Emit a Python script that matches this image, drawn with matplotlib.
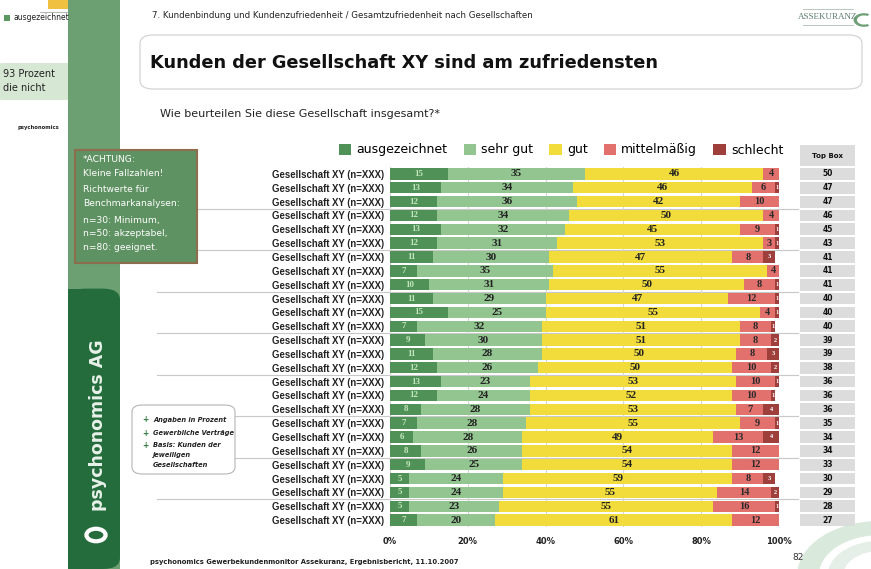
import numpy as np
import matplotlib.pyplot as plt
from matplotlib.patches import Rectangle, FancyBboxPatch, Wedge, Circle
from matplotlib.lines import Line2D
import matplotlib.transforms as mtransforms


# Chart data (percent per company)
categories = ['ausgezeichnet', 'sehr gut', 'gut', 'mittelmäßig', 'schlecht']
row_labels = ['Gesellschaft XY (n=XXX)'] * 26
ausgezeichnet = [15, 13, 12, 12, 13, 12, 11, 7, 10, 11, 15, 7, 9,
                 11, 12, 13, 12, 8, 7, 6, 8, 9, 5, 5, 5, 7]
sehr_gut = [35, 34, 36, 34, 32, 31, 30, 35, 31, 29, 25, 32, 30,
            28, 26, 23, 24, 28, 28, 28, 26, 25, 24, 24, 23, 20]
gut = [46, 46, 42, 50, 45, 53, 47, 55, 50, 47, 55, 51, 51,
       50, 50, 53, 52, 53, 55, 49, 54, 54, 59, 55, 55, 61]
mittelmaessig = [4, 6, 10, 4, 9, 3, 8, 4, 8, 12, 4, 8, 8,
                 8, 10, 10, 10, 7, 9, 13, 12, 12, 8, 14, 16, 12]
schlecht = [0, 1, 1, 0, 1, 1, 3, 0, 1, 1, 1, 1, 2,
            3, 2, 1, 1, 4, 1, 4, 0, 0, 3, 2, 1, 0]
top_box = [50, 47, 47, 46, 45, 43, 41, 41, 41, 40, 40, 40, 39,
           39, 38, 36, 36, 36, 35, 34, 34, 33, 30, 29, 28, 27]
x_ticks = [0, 20, 40, 60, 80, 100]
x_ticklabels = ['0%', '20%', '40%', '60%', '80%', '100%']

colors = ['#4f9157', '#93c590', '#f1dc3c', '#e2716d', '#9e3f3c']
label_colors = ['#c4e6bd', '#222222', '#222222', '#2a2a2a', '#ffffff']

W, H = 871, 569


def fx(x):
    return x / W


def fy(y):
    return 1 - y / H


fig = plt.figure(figsize=(8.71, 5.69), dpi=100)
fig.patch.set_facecolor('white')

# --- main stacked bar chart ---
ax = fig.add_axes([fx(390), fy(527), (779 - 390) / W, (527 - 167) / H])
ax.patch.set_visible(False)
rows = np.arange(len(row_labels))
series = [ausgezeichnet, sehr_gut, gut, mittelmaessig, schlecht]
left = np.zeros(len(rows))
conts = []
for name, vals, col in zip(categories, series, colors):
    vals = np.array(vals, dtype=float)
    c = ax.barh(rows, vals, left=left, height=0.82, color=col, label=name, zorder=2)
    conts.append(c)
    left += vals

sizes = [6.5, 8, 8, 7.5, 4.5]
for c, vals, lc, fs in zip(conts, series, label_colors, sizes):
    labs = [str(v) if v > 0 else '' for v in vals]
    ax.bar_label(c, labels=labs, label_type='center', color=lc, fontsize=fs,
                 family='Liberation Serif', fontweight='bold')

ax.set_xlim(0, 100)
ax.set_ylim(len(rows) - 0.5, -0.5)
ax.set_xticks(x_ticks)
ax.set_xticklabels(x_ticklabels, fontsize=6, fontweight='bold', color='#222')
ax.set_yticks(rows)
ax.set_yticklabels(row_labels, fontsize=6.9, fontweight='bold',
                   family='Liberation Sans', color='#222')
ax.tick_params(axis='both', length=0)
ax.tick_params(axis='x', pad=7)
ax.tick_params(axis='y', pad=4)
for s in ax.spines.values():
    s.set_visible(False)
ax.grid(axis='x', color='#d6d6d6', lw=0.8, zorder=0)

ax.legend(loc='center', bbox_to_anchor=(fx(561), fy(150)),
          bbox_transform=fig.transFigure, ncol=5, frameon=False,
          fontsize=9, handlelength=1.0, handleheight=1.0,
          handletextpad=0.4, columnspacing=1.3)

# group separator lines every 3 rows
blend = mtransforms.blended_transform_factory(fig.transFigure, ax.transData)
for yy in np.arange(2.5, len(rows) - 1, 3):
    fig.add_artist(Line2D([fx(157), fx(798)], [yy, yy], transform=blend,
                          color='#c8c8c8', lw=0.8, zorder=0))

# --- Top Box column ---
ax2 = fig.add_axes([fx(800), fy(527), (855 - 800) / W, (527 - 167) / H], sharey=ax)
ax2.barh(rows, [1] * len(rows), height=0.85, color='#dcdcdc')
for r, v in zip(rows, top_box):
    ax2.text(0.5, r, str(v), ha='center', va='center', fontsize=5.5,
             fontweight='bold', color='#111')
ax2.set_xlim(0, 1)
ax2.axis('off')
fig.add_artist(Rectangle((fx(800), fy(166)), 55 / W, 21 / H,
                         transform=fig.transFigure, fc='#dcdcdc', ec='none'))
fig.text(fx(827), fy(156), 'Top Box', ha='center', va='center', fontsize=5,
         fontweight='bold', color='#111')

# --- slide decoration ---
# fragment of previous slide at the far left
fig.add_artist(Rectangle((fx(48), fy(9)), 20 / W, 9 / H, transform=fig.transFigure,
                         fc='#f0c040', ec='none'))
fig.add_artist(Line2D([fx(40), fx(68)], [fy(12), fy(12)], color='#aaaaaa', lw=0.6))
fig.add_artist(Rectangle((fx(4), fy(21)), 6 / W, 6 / H, transform=fig.transFigure,
                         fc='#5a9a62', ec='none'))
fig.text(fx(13), fy(18), 'ausgezeichnet', fontsize=5.5, va='center', color='#222')
fig.add_artist(FancyBboxPatch((fx(-5), fy(100)), 80 / W, 37 / H,
                              boxstyle='round,pad=0,rounding_size=0.01',
                              transform=fig.transFigure, fc='#d6e8d3', ec='none'))
fig.text(fx(3), fy(74), '93 Prozent', fontsize=7, va='center', color='#222')
fig.text(fx(3), fy(88), 'die nicht', fontsize=7, va='center', color='#222')
fig.text(fx(17), fy(128), 'psychonomics', fontsize=3.8, fontweight='bold',
         va='center', color='#222')

# green sidebar
fig.add_artist(Rectangle((fx(68), 0), 52 / W, 1, transform=fig.transFigure,
                         fc='#6c9f72', ec='none', zorder=3))
fig.add_artist(FancyBboxPatch((fx(68), 0), 52 / W, (569 - 300) / H + 0.02,
                              boxstyle='round,pad=0,rounding_size=0.02',
                              transform=fig.transFigure, fc='#246c3b', ec='none',
                              zorder=3))
fig.add_artist(Rectangle((fx(68), 0), 20 / W, (569 - 300) / H + 0.02,
                         transform=fig.transFigure, fc='#246c3b', ec='none', zorder=3))
fig.text(fx(98), fy(425), 'psychonomics AG', rotation=90, ha='center', va='center',
         fontsize=12.5, fontweight='bold', color='#e8f2ea', zorder=4)
fig.add_artist(Circle((fx(96), fy(535)), 0.011, transform=fig.transFigure,
                      fc='none', ec='white', lw=3, zorder=4))

# ACHTUNG box
fig.add_artist(Rectangle((fx(75), fy(263)), 122 / W, 113 / H,
                         transform=fig.transFigure, fc='#5f9262', ec='#8c6e4c',
                         lw=1.5, zorder=5))
achtung = [('*ACHTUNG:', 160), ('Kleine Fallzahlen!', 173),
           ('Richtwerte für', 190), ('Benchmarkanalysen:', 203),
           ('n=30: Minimum,', 220), ('n=50: akzeptabel,', 233),
           ('n=80: geeignet.', 247)]
for txt, yy in achtung:
    fig.text(fx(83), fy(yy), txt, fontsize=6.6, color='white', va='center', zorder=6)

# notes box
fig.add_artist(FancyBboxPatch((fx(132), fy(474)), 103 / W, 69 / H,
                              boxstyle='round,pad=0,rounding_size=0.012',
                              transform=fig.transFigure, fc='white', ec='#b5b5b5',
                              lw=0.8, zorder=5))
notes = [('+', 'Angaben in Prozent', 420), ('+', 'Gewerbliche Verträge', 433),
         ('+', 'Basis: Kunden der', 445), ('', 'jeweiligen', 455),
         ('', 'Gesellschaften', 465)]
for b, txt, yy in notes:
    if b:
        fig.text(fx(142), fy(yy), b, fontsize=5.5, color='#2e7a40', va='center',
                 fontweight='bold', zorder=6)
    fig.text(fx(153), fy(yy), txt, fontsize=4.8, color='#222', va='center',
             fontweight='bold', style='italic', zorder=6)

# headline area
fig.text(fx(152), fy(15), '7. Kundenbindung und Kundenzufriedenheit / '
         'Gesamtzufriedenheit nach Gesellschaften', fontsize=6.2, va='center',
         color='#222')
fig.add_artist(FancyBboxPatch((fx(140), fy(89)), 722 / W, 54 / H,
                              boxstyle='round,pad=0,rounding_size=0.015',
                              transform=fig.transFigure, fc='white', ec='#d4d4d4',
                              lw=0.9, zorder=1))
fig.text(fx(150), fy(63), 'Kunden der Gesellschaft XY sind am zufriedensten',
         fontsize=12.8, fontweight='bold', va='center', color='#111', zorder=2)
fig.text(fx(160), fy(114), 'Wie beurteilen Sie diese Gesellschaft insgesamt?*',
         fontsize=8.0, va='center', color='#222')

# logo top right
fig.text(fx(828), fy(17), 'ASSEKURANZ', fontsize=6.5, family='Liberation Serif',
         ha='center', va='center', color='#5d7d6d', zorder=2)
fig.add_artist(Line2D([fx(803), fx(853)], [fy(9), fy(9)], color='#9bb0a5', lw=0.5,
                      zorder=2))
fig.add_artist(Line2D([fx(803), fx(853)], [fy(25), fy(25)], color='#9bb0a5', lw=0.5,
                      zorder=2))
fig.add_artist(Wedge((fx(864), fy(20)), 0.012, 60, 300, width=0.004,
                     transform=fig.transFigure, fc='#6fa07a', ec='none', zorder=2))

# swoosh bottom right
fig.add_artist(Wedge((fx(880), fy(575)), 0.095, 95, 185, width=0.025,
                     transform=fig.transFigure, fc='#d9e9dc', ec='none', zorder=0))
fig.add_artist(Wedge((fx(880), fy(575)), 0.06, 100, 180, width=0.018,
                     transform=fig.transFigure, fc='#e6eee8', ec='none', zorder=0))

# footer
fig.text(fx(150), fy(562), 'psychonomics Gewerbekundenmonitor Assekuranz, '
         'Ergebnisbericht, 11.10.2007', fontsize=4.9, fontweight='bold',
         va='center', color='#222')
fig.text(fx(792), fy(557), '82', fontsize=6.5, va='center', color='#333')

fig.savefig('out.png', dpi=100)
